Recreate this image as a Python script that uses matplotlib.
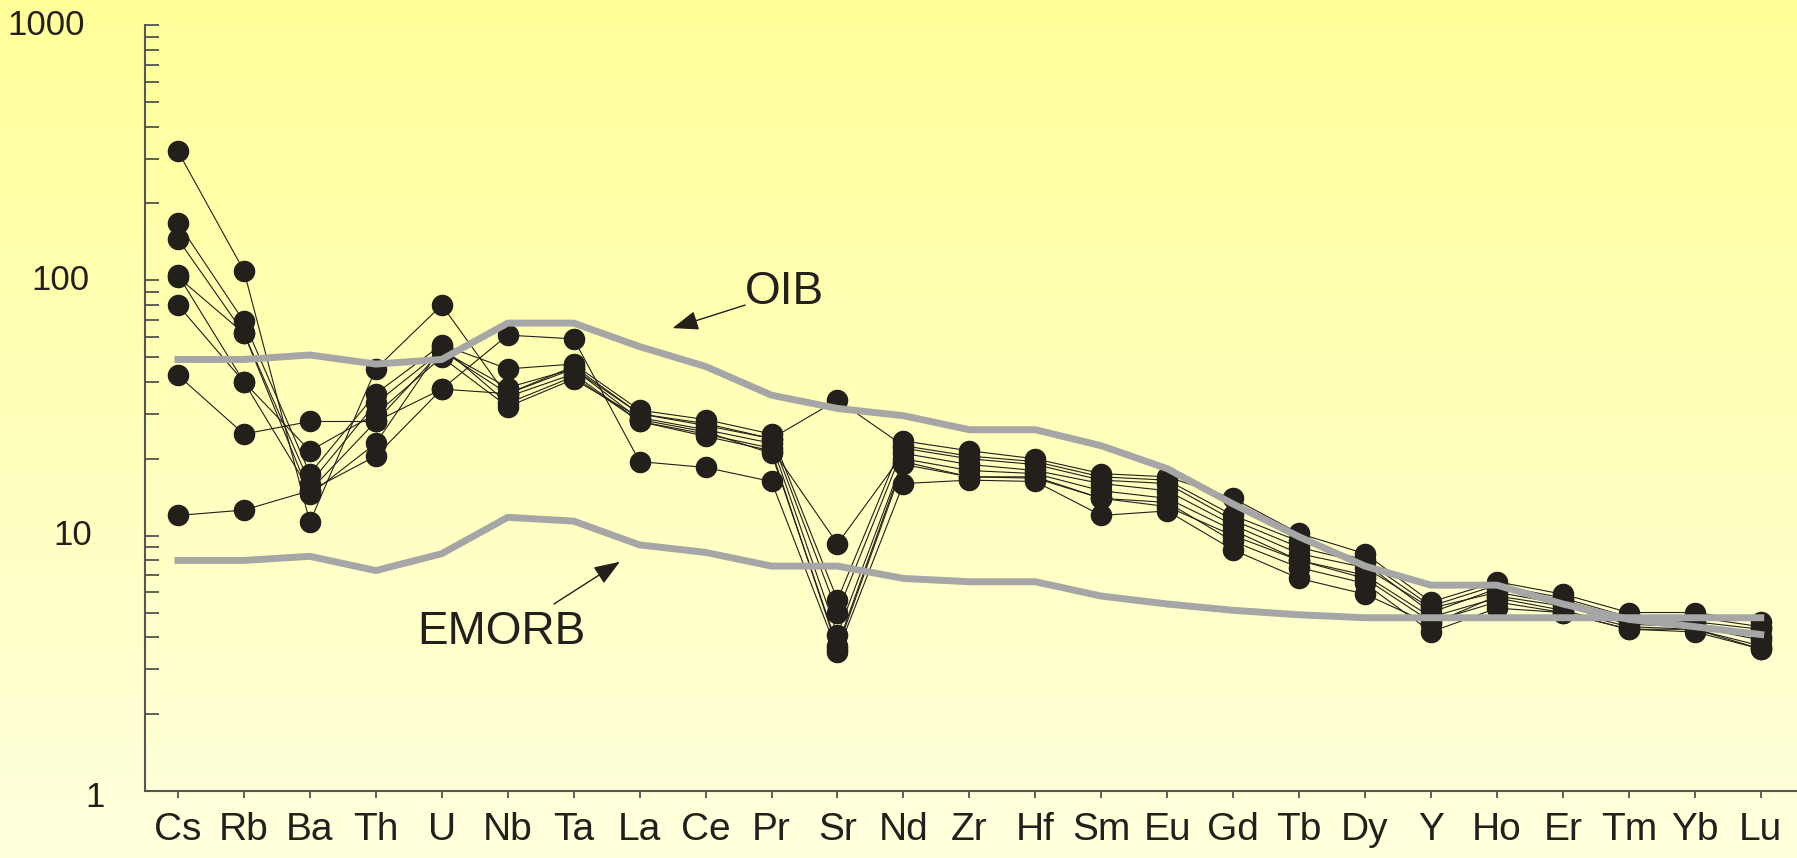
import numpy as np
import matplotlib.pyplot as plt
from matplotlib.transforms import offset_copy

plt.rcParams['font.family'] = ['Liberation Sans', 'DejaVu Sans']

elements = ['Cs', 'Rb', 'Ba', 'Th', 'U', 'Nb', 'Ta', 'La', 'Ce', 'Pr', 'Sr', 'Nd', 'Zr',
            'Hf', 'Sm', 'Eu', 'Gd', 'Tb', 'Dy', 'Y', 'Ho', 'Er', 'Tm', 'Yb', 'Lu']

oib = [49, 49, 51, 47, 49, 68, 68, 55, 46, 35.5, 31.5, 29.5, 26, 26, 22.5, 18.3,
       13.3, 9.9, 7.6, 6.4, 6.4, 5.4, 4.7, 4.4, 4.1]
emorb = [8.0, 8.0, 8.3, 7.3, 8.5, 11.8, 11.4, 9.2, 8.6, 7.6, 7.6, 6.8, 6.6, 6.6, 5.8,
         5.4, 5.1, 4.9, 4.77, 4.77, 4.77, 4.77, 4.77, 4.77, 4.77]

s1 = [320, 109, 11.3, 45, 80, 35, 43, 28, 25, 22, 9.3, 21, 19, 18, 16, 15, 11, 8.5, 7.5, 5.2, 6.0, 5.4, 4.6, 4.5, 4.0]
s2 = [168, 69, 17.5, 36, 56, 45, 47, 31, 28.5, 25, 5.6, 23.5, 21.5, 20, 17.5, 17, 14, 10.2, 8.5, 5.5, 6.6, 5.9, 5.0, 5.0, 4.6]
s3 = [145, 62, 16, 33, 53, 38, 45, 30, 27, 24, 5.0, 22, 20, 19, 16.5, 16, 11.5, 9.0, 7.8, 5.0, 6.2, 5.6, 4.7, 4.6, 4.3]
s4 = [105, 40, 21.5, 30, 50, 32, 41, 29, 26, 23, 4.1, 20, 18, 17.5, 15, 14, 10.5, 8.0, 7.0, 4.8, 5.7, 5.1, 4.4, 4.3, 3.7]
s5 = [80, 40, 15, 28, 53, 36, 45, 28.5, 25.5, 21, 3.7, 19.5, 17, 17, 14, 13.5, 9.5, 7.5, 6.5, 4.2, 5.2, 5.0, 4.3, 4.2, 3.6]
s6 = [42.5, 25, 28, 28, 37.5, 36, 46, 30, 27.5, 24, 34, 22.5, 20.5, 19.5, 17, 16.5, 12, 9.5, 8.0, 5.3, 6.4, 5.7, 4.8, 4.8, 4.4]
s7 = [12, 12.6, 15, 20.5, 37.5, 61, 59, 19.5, 18.5, 16.3, 3.5, 16, 16.5, 16.3, 12, 12.5, 8.8, 6.8, 5.9, 4.5, 5.8, 5.3, 4.5, 4.4, 3.9]
s8 = [103, 62, 14.5, 23, 55, 33, 42, 28, 24.5, 21.5, 3.6, 19, 17, 16.8, 14, 13, 10, 8.0, 6.8, 4.6, 5.5, 5.0, 4.3, 4.3, 3.6]
samples = [s1, s2, s3, s4, s5, s6, s7, s8]

y_ticks = [1, 10, 100, 1000]
y_labels = ['1', '10', '100', '1000']

fig = plt.figure(figsize=(17.97, 8.58), dpi=100)

# yellow gradient background
bg = fig.add_axes([0, 0, 1, 1], zorder=-1)
grad = np.linspace(0, 1, 256).reshape(-1, 1)
top = np.array([255, 255, 153]) / 255
bot = np.array([255, 255, 222]) / 255
img = top + grad[..., None] * (bot - top)
bg.imshow(img, aspect='auto', extent=[0, 1, 0, 1])
bg.axis('off')

ax = fig.add_axes([145 / 1797, 1 - 791 / 858, 1 - 145 / 1797, (791 - 25) / 858])
ax.patch.set_alpha(0)

x = np.arange(len(elements))
ink = '#231f1a'
ax.plot(x, oib, color='#a6a6a6', lw=5, zorder=3)
ax.plot(x, emorb, color='#a6a6a6', lw=5, zorder=3)
for s in samples:
    ax.plot(x, s, color=ink, lw=0.8, marker='o', ms=14.5, mfc=ink, mec=ink, zorder=2)

ax.set_yscale('log')
ax.set_ylim(1, 1000)
ax.set_xlim(-0.5, 24.55)
ax.set_xticks(x)
ax.set_xticklabels(elements, fontsize=28, color=ink)
ax.set_yticks(y_ticks)
ax.set_yticklabels([])
ax.tick_params(axis='x', direction='out', length=5, width=1.2, color='#444444', pad=10)
ax.tick_params(axis='y', which='both', direction='in', length=10, width=1.2, color='#444444')
ax.tick_params(axis='y', which='minor', labelleft=False)
for side in ['top', 'right']:
    ax.spines[side].set_visible(False)
for side in ['left', 'bottom']:
    ax.spines[side].set_color('#555555')
    ax.spines[side].set_linewidth(1.5)

# y labels sit at slightly different distances from the axis, as in the original
offsets = [(-29, -5), (-38, 0), (-40, 0), (-43, 0)]
for v, lab, (dx, dy) in zip(y_ticks, y_labels, offsets):
    tr = offset_copy(ax.get_yaxis_transform(), fig=fig, x=dx, y=dy, units='points')
    ax.text(0, v, lab, transform=tr, fontsize=25, color=ink, ha='right', va='center')

arrow = dict(arrowstyle='-|>,head_length=0.8,head_width=0.3', color=ink, lw=1,
             mutation_scale=20, shrinkA=0, shrinkB=0)
ax.text(9.2, 90, 'OIB', fontsize=33, color=ink, ha='center', va='center')
ax.annotate('', xy=(7.5, 65), xytext=(8.6, 80), arrowprops=arrow)
ax.text(4.9, 4.2, 'EMORB', fontsize=33, color=ink, ha='center', va='center')
ax.annotate('', xy=(6.7, 7.9), xytext=(5.7, 5.4), arrowprops=arrow)

fig.savefig('out.png', dpi=100)
